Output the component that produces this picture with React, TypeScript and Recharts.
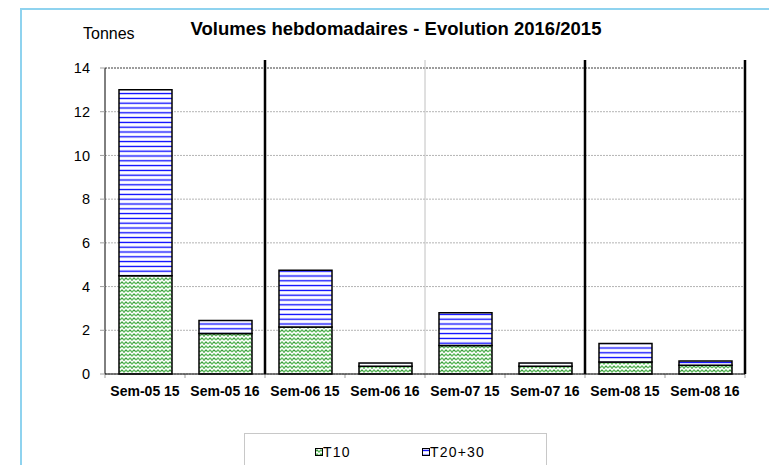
import {
  BarChart,
  Bar,
  XAxis,
  YAxis,
  CartesianGrid,
  ReferenceLine,
} from "recharts";

const weeks = [
  "Sem-05 15",
  "Sem-05 16",
  "Sem-06 15",
  "Sem-06 16",
  "Sem-07 15",
  "Sem-07 16",
  "Sem-08 15",
  "Sem-08 16",
];
const t10 = [4.5, 1.85, 2.15, 0.35, 1.3, 0.35, 0.55, 0.4];
const t2030 = [8.5, 0.6, 2.6, 0.15, 1.5, 0.15, 0.85, 0.2];
const yTicks = [0, 2, 4, 6, 8, 10, 12, 14];
// separators: placed on the left edge of these weeks (or right edge of the last one)
const blackSeparators: [string, "start" | "end"][] = [
  ["Sem-06 15", "start"],
  ["Sem-08 15", "start"],
  ["Sem-08 16", "end"],
];
const greySeparators: [string, "start" | "end"][] = [["Sem-07 15", "start"]];

const data = weeks.map((name, i) => ({ name, t10: t10[i], t2030: t2030[i] }));

const FONT = "'Liberation Sans', Arial, sans-serif";

const Patterns = () => (
  <svg width={0} height={0} style={{ position: "absolute" }}>
    <defs>
      <pattern id="weave" width="8" height="8" patternUnits="userSpaceOnUse">
        <rect width="8" height="8" fill="#ffffff" />
        <path
          d="M0 4 L2 2 L4 4 L6 2 L8 4 M0 8 L2 6 L4 8 L6 6 L8 8 M0 0 L2 -2 M6 -2 L8 0"
          stroke="#5ab85a"
          strokeWidth="1.3"
          fill="none"
        />
        <path d="M2 2 L2 3 M6 6 L6 7 M4 0 L4 1" stroke="#1f7a1f" strokeWidth="1" />
      </pattern>
      <pattern id="hlines" width="6" height="4.8" patternUnits="userSpaceOnUse">
        <rect width="6" height="4.8" fill="#ffffff" />
        <line x1="0" y1="2.4" x2="6" y2="2.4" stroke="#0000ff" strokeWidth="1.3" />
      </pattern>
    </defs>
  </svg>
);

const LegendBox = () => (
  <div
    style={{
      position: "absolute",
      left: 244,
      top: 433,
      width: 301,
      height: 40,
      border: "1px solid #c8c8c8",
      background: "#fff",
      fontFamily: FONT,
      fontSize: 14,
      letterSpacing: 1.2,
      color: "#000",
    }}
  >
    {[
      { label: "T10", fill: "url(#weave)", left: 70 },
      { label: "T20+30", fill: "url(#hlines)", left: 177 },
    ].map((it) => (
      <div
        key={it.label}
        style={{ position: "absolute", left: it.left, top: 10, display: "flex", alignItems: "center" }}
      >
        <svg width={8} height={8}>
          <rect x={0.5} y={0.5} width={7} height={7} fill={it.fill} stroke="#000" strokeWidth={1} />
        </svg>
        <span>{it.label}</span>
      </div>
    ))}
  </div>
);

// vertical separator drawn from the reference line, extended a little above the plot
const sepShape = (color: string, width: number) => (p: any) => (
  <line
    x1={p.x1}
    x2={p.x2}
    y1={Math.min(p.y1, p.y2) - 8}
    y2={Math.max(p.y1, p.y2)}
    stroke={color}
    strokeWidth={width}
  />
);

// small grey tick below the axis at the category boundary
const tickShape = (p: any) => {
  const yb = Math.max(p.y1, p.y2);
  return <line x1={p.x1} x2={p.x2} y1={yb} y2={yb + 4} stroke="#a0a0a0" strokeWidth={1} />;
};

export default function App() {
  return (
    <div style={{ position: "fixed", left: 0, top: 0, width: 769, height: 465, background: "#fff", overflow: "hidden" }}>
      <Patterns />
      <div
        style={{
          position: "absolute",
          left: 20,
          top: 8,
          width: 780,
          height: 480,
          borderLeft: "2px solid #8fd3ef",
          borderTop: "2px solid #8fd3ef",
        }}
      />
      <div
        style={{
          position: "absolute",
          left: 0,
          width: 792,
          top: 18,
          textAlign: "center",
          fontFamily: FONT,
          fontWeight: "bold",
          fontSize: 18.5,
        }}
      >
        Volumes hebdomadaires - Evolution 2016/2015
      </div>
      <div style={{ position: "absolute", left: 83, top: 25, fontFamily: FONT, fontSize: 16 }}>Tonnes</div>
      <div style={{ position: "absolute", left: 0, top: 0 }}>
        <BarChart
          width={769}
          height={465}
          data={data}
          margin={{ top: 68, right: 24, bottom: 61, left: 45 }}
          barSize={53}
        >
          <CartesianGrid vertical={false} stroke="#b4b4b4" strokeDasharray="2 1" />
          <ReferenceLine y={14} stroke="#606060" strokeDasharray="2 1" />
          <XAxis
            dataKey="name"
            height={30}
            interval={0}
            axisLine={{ stroke: "#000" }}
            tickLine={false}
            tickSize={6}
            tickMargin={6}
            tick={{ fill: "#000", fontFamily: FONT, fontSize: 14, fontWeight: "bold" }}
          />
          <YAxis
            width={60}
            domain={[0, 14]}
            ticks={yTicks}
            interval={0}
            axisLine={{ stroke: "#000" }}
            tickLine={{ stroke: "#a0a0a0" }}
            tickSize={5}
            tickMargin={10}
            tick={{ fill: "#000", fontFamily: FONT, fontSize: 14.5 }}
          />
          <Bar dataKey="t10" stackId="s" fill="url(#weave)" stroke="#000" strokeWidth={1.5} isAnimationActive={false} />
          <Bar dataKey="t2030" stackId="s" fill="url(#hlines)" stroke="#000" strokeWidth={1.5} isAnimationActive={false} />
          {weeks.map((w) => (
            <ReferenceLine key={"t" + w} x={w} position="start" ifOverflow="visible" shape={tickShape} />
          ))}
          <ReferenceLine x={weeks[weeks.length - 1]} position="end" ifOverflow="visible" shape={tickShape} />
          {greySeparators.map(([w, pos]) => (
            <ReferenceLine key={"g" + w} x={w} position={pos} ifOverflow="visible" shape={sepShape("#c0c0c0", 1)} />
          ))}
          {blackSeparators.map(([w, pos]) => (
            <ReferenceLine key={"b" + w + pos} x={w} position={pos} ifOverflow="visible" shape={sepShape("#000", 2.5)} />
          ))}
        </BarChart>
      </div>
      <LegendBox />
    </div>
  );
}
